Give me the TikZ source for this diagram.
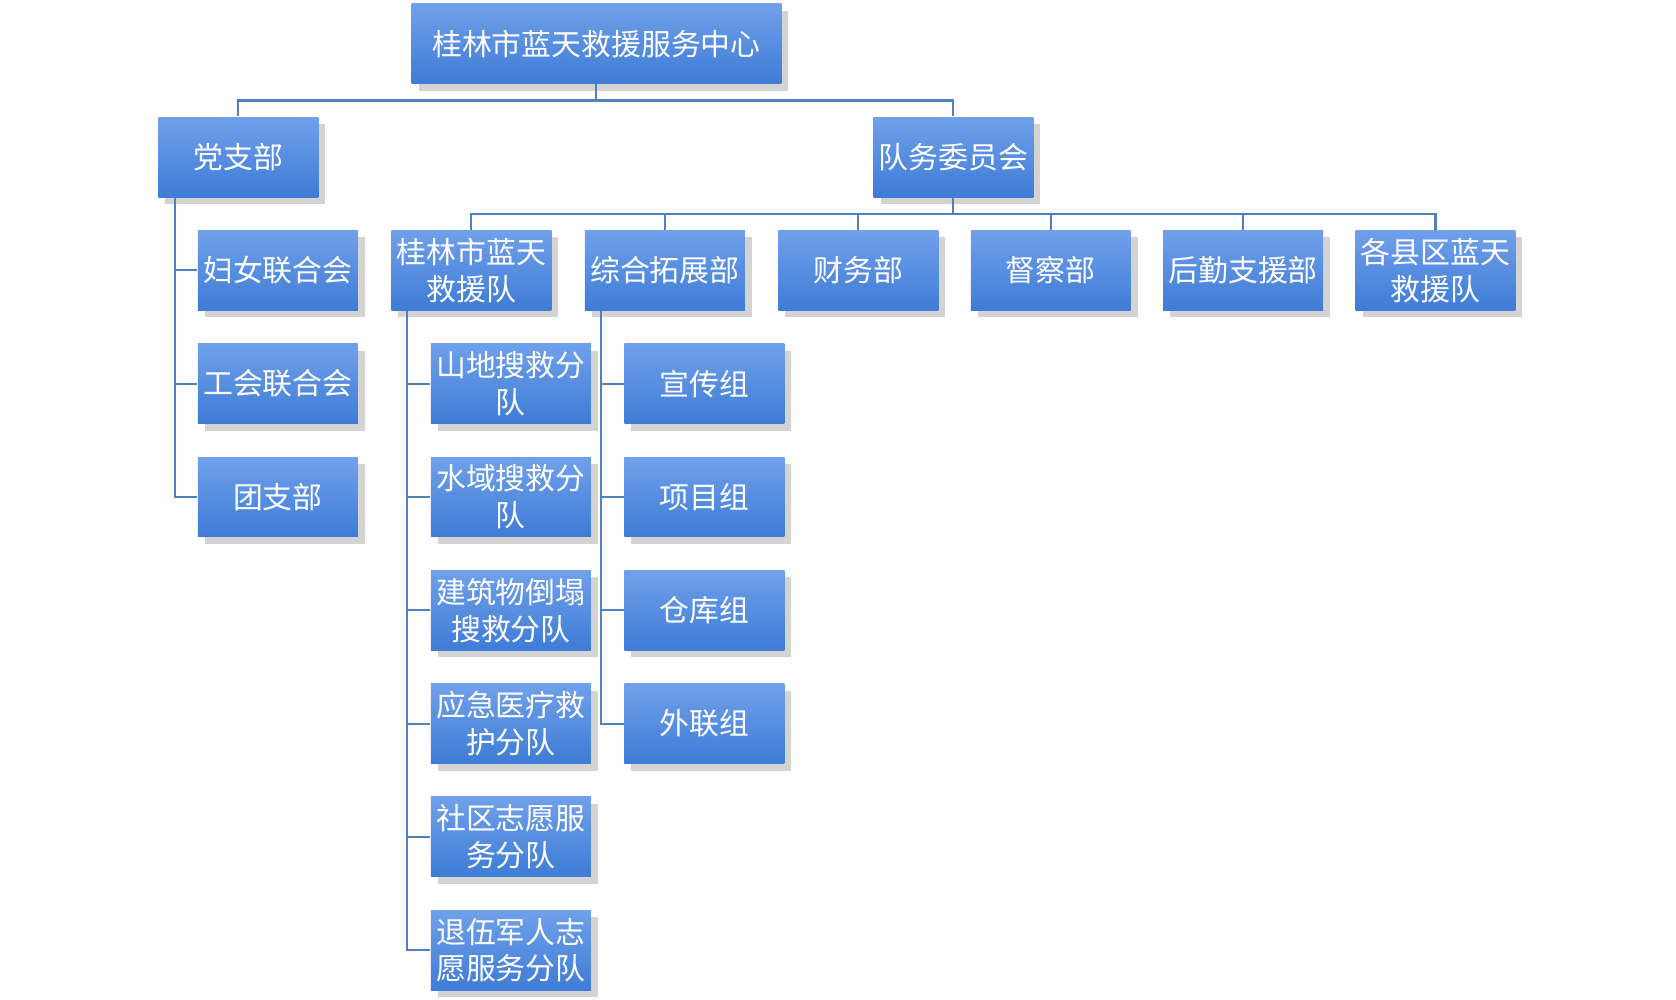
\documentclass[tikz,border=0pt]{standalone}
\usepackage{fontspec}
\setmainfont{Noto Sans CJK SC}
\usetikzlibrary{shadows}
\definecolor{boxtop}{RGB}{112,160,234}
\definecolor{boxbot}{RGB}{62,124,214}
\definecolor{linkblue}{RGB}{79,129,189}
\tikzset{
  unit/.style={draw=none, top color=boxtop, bottom color=boxbot,
    drop shadow={opacity=0.35, shadow xshift=2pt, shadow yshift=-2pt},
    text=white, minimum width=1.6cm, minimum height=0.8cm, inner sep=1pt,
    align=center, font=\fontsize{8.5pt}{10.5pt}\selectfont},
  link/.style={draw=linkblue, line width=0.6pt}
}
\begin{document}
\begin{tikzpicture}[x=0.01069cm, y=-0.01069cm]
  \useasboundingbox (0,0) rectangle (1568,935.5);
  % connectors first, behind boxes
  \coordinate (pl) at (164,185);
  \coordinate (tl) at (381,291);
  \coordinate (el) at (562,291);
  \node[unit, minimum width=3.7cm] (hq) at (558,41) {桂林市蓝天救援服务中心};
  \node[unit] (party) at (223,147) {党支部};
  \node[unit] (board) at (892,147) {队务委员会};
  % party branch
  \node[unit] (women) at (260,253) {妇女联合会};
  \node[unit] (union) at (260,359) {工会联合会};
  \node[unit] (youth) at (260,465) {团支部};
  % board branch
  \node[unit] (team) at (441,253) {桂林市蓝天\\救援队};
  \node[unit] (expand) at (622,253) {综合拓展部};
  \node[unit] (finance) at (803,253) {财务部};
  \node[unit] (inspect) at (983,253) {督察部};
  \node[unit] (logist) at (1163,253) {后勤支援部};
  \node[unit] (county) at (1343,253) {各县区蓝天\\救援队};
  % rescue squads
  \node[unit] (mount) at (478,359) {山地搜救分\\队};
  \node[unit] (water) at (478,465) {水域搜救分\\队};
  \node[unit] (build) at (478,571) {建筑物倒塌\\搜救分队};
  \node[unit] (medic) at (478,677) {应急医疗救\\护分队};
  \node[unit] (commu) at (478,783) {社区志愿服\\务分队};
  \node[unit] (veter) at (478,889) {退伍军人志\\愿服务分队};
  % expansion groups
  \node[unit] (promo) at (659,359) {宣传组};
  \node[unit] (proj) at (659,465) {项目组};
  \node[unit] (store) at (659,571) {仓库组};
  \node[unit] (liais) at (659,677) {外联组};
  % connectors
  \foreach \n in {party,board}
    \draw[link] (hq.south) -- (hq.south |- 0,94) -| (\n.north);
  \foreach \n in {team,expand,finance,inspect,logist,county}
    \draw[link] (board.south) -- (board.south |- 0,200) -| (\n.north);
  \foreach \n in {women,union,youth}
    \draw[link] (pl) |- (\n.west);
  \foreach \n in {mount,water,build,medic,commu,veter}
    \draw[link] (tl) |- (\n.west);
  \foreach \n in {promo,proj,store,liais}
    \draw[link] (el) |- (\n.west);
\end{tikzpicture}
\end{document}
